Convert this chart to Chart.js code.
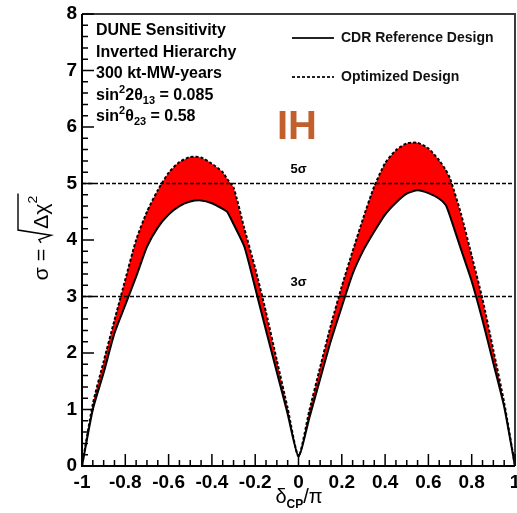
<!DOCTYPE html>
<html><head><meta charset="utf-8">
<script src="https://cdn.jsdelivr.net/npm/chart.js@4/dist/chart.umd.min.js"></script>
<style>html,body{margin:0;padding:0;background:#fff;overflow:hidden}</style>
</head><body>
<canvas id="c" width="517" height="513"></canvas>
<script>
// ---- data ----
const deltaCP = [-1.00,-0.95,-0.90,-0.85,-0.80,-0.75,-0.70,-0.65,-0.60,-0.55,-0.50,-0.45,-0.40,-0.35,-0.33,-0.30,-0.25,-0.20,-0.15,-0.10,-0.05,
                 0.00,0.05,0.10,0.15,0.20,0.25,0.30,0.35,0.40,0.45,0.50,0.55,0.60,0.65,0.68,0.70,0.75,0.80,0.85,0.90,0.95,1.00];
const cdrReference = [0.00,1.00,1.65,2.35,2.85,3.35,3.88,4.22,4.45,4.60,4.68,4.70,4.65,4.55,4.50,4.28,3.88,3.15,2.40,1.66,0.92,
                 0.17,0.85,1.54,2.22,2.82,3.40,3.82,4.15,4.45,4.66,4.82,4.88,4.83,4.73,4.62,4.42,3.84,3.27,2.58,1.82,1.05,0.00];
const optimizedDesign = [0.00,1.10,1.85,2.58,3.30,4.00,4.50,4.88,5.19,5.38,5.47,5.46,5.35,5.20,5.08,4.93,4.20,3.50,2.72,1.87,1.02,
                 0.17,0.98,1.75,2.50,3.18,3.80,4.40,4.95,5.36,5.59,5.71,5.72,5.62,5.41,5.24,5.09,4.47,3.72,2.95,2.05,1.12,0.00];
const xTicks = [-1,-0.8,-0.6,-0.4,-0.2,0,0.2,0.4,0.6,0.8,1];
const yTicks = [0,1,2,3,4,5,6,7,8];
const sigmaLevels = [5,3];
const sigmaLabels = ['5σ','3σ'];
const seriesNames = ['CDR Reference Design','Optimized Design'];
const infoLines = ['DUNE Sensitivity','Inverted Hierarchy','300 kt-MW-years'];
const theta13Value = '0.085';
const theta23Value = '0.58';
const hierarchyTag = 'IH';

const FONT = '"Liberation Sans", Arial, Helvetica, sans-serif';
const pts = ys => deltaCP.map((x,i)=>({x:x,y:ys[i]}));

function drawRich(ctx, x, y, segs){
  let cx = x;
  for (const s of segs){
    ctx.font = s.font;
    ctx.fillText(s.t, cx, y + (s.dy||0));
    cx += ctx.measureText(s.t).width + (s.gap||0);
  }
  return cx;
}
function richWidth(ctx, segs){
  let w=0; for(const s of segs){ctx.font=s.font; w+=ctx.measureText(s.t).width+(s.gap||0);} return w;
}

const decor = {
  id:'decor',
  afterDatasetsDraw(chart){
    const ctx = chart.ctx, a = chart.chartArea, xs = chart.scales.x, ys = chart.scales.y;
    ctx.save();
    // frame
    ctx.strokeStyle = '#3a3a3a'; ctx.lineWidth = 2;
    ctx.beginPath(); ctx.moveTo(a.left, a.top); ctx.lineTo(a.right, a.top); ctx.lineTo(a.right, a.bottom); ctx.stroke();
    ctx.strokeStyle = '#000';
    ctx.beginPath(); ctx.moveTo(a.left, a.top); ctx.lineTo(a.left, a.bottom); ctx.lineTo(a.right, a.bottom); ctx.stroke();
    // inside ticks
    ctx.lineWidth = 1.5;
    ctx.beginPath();
    for (let i=0;i<=40;i++){
      const v = -1 + i*0.05, px = xs.getPixelForValue(v);
      const L = (i%4===0) ? 12 : 6;
      ctx.moveTo(px, a.bottom); ctx.lineTo(px, a.bottom-L);
    }
    for (let i=0;i<=40;i++){
      const v = i*0.2, py = ys.getPixelForValue(v);
      const L = (i%5===0) ? 12 : 6;
      ctx.moveTo(a.left, py); ctx.lineTo(a.left+L, py);
    }
    ctx.stroke();
    // sigma labels
    ctx.fillStyle = '#000'; ctx.textAlign='center'; ctx.textBaseline='alphabetic';
    ctx.font = 'bold 13px '+FONT;
    sigmaLevels.forEach((lv,i)=>{
      ctx.fillText(sigmaLabels[i], xs.getPixelForValue(0), ys.getPixelForValue(lv)-11);
    });
    // info text block
    ctx.textAlign='left';
    const bf = 'bold 16px '+FONT, sf = 'bold 11px '+FONT;
    infoLines.forEach((t,i)=>{ ctx.font=bf; ctx.fillText(t, 96, 35 + i*21.5); });
    drawRich(ctx, 96, 99.5, [{t:'sin',font:bf},{t:'2',font:sf,dy:-7},{t:'2θ',font:bf},{t:'13',font:sf,dy:4},{t:' = '+theta13Value,font:bf}]);
    drawRich(ctx, 96, 121, [{t:'sin',font:bf},{t:'2',font:sf,dy:-7},{t:'θ',font:bf},{t:'23',font:sf,dy:4},{t:' = '+theta23Value,font:bf}]);
    // legend
    ctx.strokeStyle='#222'; ctx.lineWidth=2;
    ctx.beginPath(); ctx.moveTo(292,38); ctx.lineTo(334,38); ctx.stroke();
    ctx.setLineDash([3,2]);
    ctx.beginPath(); ctx.moveTo(292,77); ctx.lineTo(334,77); ctx.stroke();
    ctx.setLineDash([]);
    ctx.font = 'bold 14px '+FONT; ctx.textBaseline='middle'; ctx.fillStyle='#111';
    ctx.fillText(seriesNames[0], 341, 38);
    ctx.fillText(seriesNames[1], 341, 77);
    // IH tag
    ctx.textBaseline='alphabetic';
    ctx.font = 'bold 40px '+FONT; ctx.fillStyle='#C1602D';
    ctx.fillText(hierarchyTag, 277, 139);
    // x title
    ctx.fillStyle='#000';
    const xt = [{t:'δ',font:'20px '+FONT},{t:'CP',font:'bold 12px '+FONT,dy:5},{t:'/π',font:'20px '+FONT}];
    const xw = richWidth(ctx, xt);
    drawRich(ctx, 299 - xw/2, 503, xt);
    // y title (rotated)
    ctx.save();
    const f20 = '20px '+FONT;
    ctx.font = f20;
    const wS = ctx.measureText('σ = ').width;
    const radW = 13;
    const wD = ctx.measureText('Δχ').width;
    ctx.font = '13px '+FONT; const w2 = ctx.measureText('2').width;
    const W = wS + radW + wD + w2 + 2;
    const target = 87, sx = target/W;
    ctx.translate(48, 237 + target/2);
    ctx.rotate(-Math.PI/2);
    ctx.scale(sx, 1);
    ctx.font = f20; ctx.fillText('σ = ', 0, 0);
    let x0 = wS;
    ctx.strokeStyle='#000'; ctx.lineWidth=1.4;
    ctx.beginPath();
    ctx.moveTo(x0, -7); ctx.lineTo(x0+3, -9); ctx.lineTo(x0+7, 3); ctx.lineTo(x0+radW-1, -30); ctx.lineTo(W, -30);
    ctx.stroke();
    ctx.fillText('Δχ', x0+radW, 0);
    ctx.font = '13px '+FONT; ctx.fillText('2', x0+radW+wD, -11);
    ctx.restore();
    ctx.restore();
  }
};

new Chart(document.getElementById('c'), {
  type:'line',
  data:{ datasets:[
    { label:'5 sigma', data: [{x:-1,y:sigmaLevels[0]},{x:1,y:sigmaLevels[0]}], borderColor:'#000', borderWidth:1.5, borderDash:[4,2], pointRadius:0, fill:false, order:0 },
    { label:'3 sigma', data: [{x:-1,y:sigmaLevels[1]},{x:1,y:sigmaLevels[1]}], borderColor:'#000', borderWidth:1.5, borderDash:[4,2], pointRadius:0, fill:false, order:0 },
    { label:seriesNames[1], data: pts(optimizedDesign), borderColor:'#000', borderWidth:2, borderDash:[3,2], pointRadius:0, tension:0.2, fill:3, backgroundColor:'#FF0000', order:2 },
    { label:seriesNames[0], data: pts(cdrReference), borderColor:'#000', borderWidth:2, pointRadius:0, tension:0.2, fill:false, order:1 }
  ]},
  options:{
    responsive:false, animation:false, devicePixelRatio:1,
    layout:{ padding:{ top:14, right:2, left:0, bottom:0 } },
    plugins:{ legend:{display:false}, tooltip:{enabled:false}, filler:{drawTime:'beforeDatasetsDraw'} },
    scales:{
      x:{ type:'linear', min:-1, max:1,
          grid:{display:false, drawTicks:false}, border:{display:false},
          afterBuildTicks(s){ s.ticks = xTicks.map(v=>({value:v})); },
          ticks:{ autoSkip:false, maxRotation:0, padding:5, color:'#000', font:{family:FONT, size:19, weight:'bold'},
                  callback:v=>{ const r=Math.round(v*10)/10; return r===0?'0':String(r); } },
          afterFit(s){ s.height = 47; s.paddingLeft = 0; s.paddingRight = 0; } },
      y:{ type:'linear', min:0, max:8,
          grid:{display:false, drawTicks:false}, border:{display:false},
          afterBuildTicks(s){ s.ticks = yTicks.map(v=>({value:v})); },
          ticks:{ autoSkip:false, padding:5, color:'#000', font:{family:FONT, size:19, weight:'bold'} },
          afterFit(s){ s.width = 82; s.paddingTop = 0; s.paddingBottom = 0; } }
    }
  },
  plugins:[decor]
});
</script>
</body></html>
